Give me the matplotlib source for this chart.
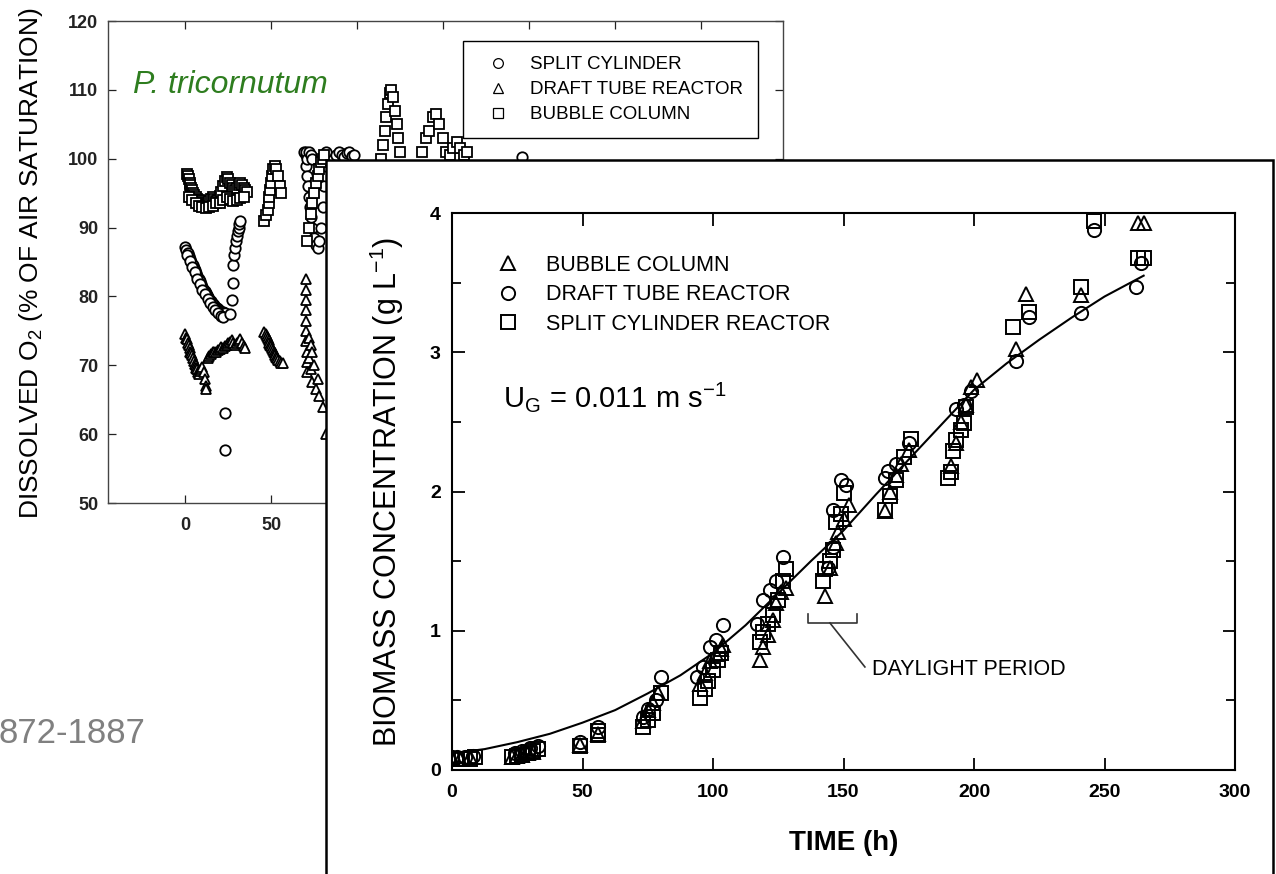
import matplotlib.pyplot as plt
from matplotlib.patches import Rectangle
from matplotlib.ticker import MultipleLocator

plt.rcParams['font.family'] = ['Liberation Sans', 'DejaVu Sans']
plt.rcParams['mathtext.fontset'] = 'custom'
plt.rcParams['mathtext.rm'] = 'Liberation Sans'
plt.rcParams['mathtext.it'] = 'Liberation Sans:italic'
plt.rcParams['mathtext.bf'] = 'Liberation Sans:bold'

# ---------------- background chart: dissolved O2 ----------------
bg_split_t = [0, 0.7, 1.4, 2.1, 2.8, 3.5, 4.2, 4.9, 5.6, 6.3, 7, 7.7, 8.4, 9.1, 9.8, 10.5, 11.2,
              11.9, 12.6, 13.3, 14, 14.7, 15.4, 16.1, 16.8, 17.5, 18.2, 18.9, 19.6, 20.3, 21,
              21.7, 22.4, 23.1,
              1, 2.5, 4, 5.5, 7, 8.5, 10, 11.5, 13, 14.5, 16, 17.5, 19, 20.5, 22,
              26, 27, 28, 28, 28.5, 29, 29.5, 30, 30.5, 31, 31.5, 32,
              23, 23,
              69, 70, 70.5, 71, 71.5, 72, 72.5, 73, 74, 75, 76, 77, 78, 79, 80, 81, 82, 82,
              70, 71, 72, 73, 74,
              88, 89.5, 91, 92.5, 94, 95.5, 97, 98.5, 196]
bg_split_y = [87.2, 86.8, 86.3, 85.9, 85.5, 85.0, 84.6, 84.2, 83.8, 83.4, 83.0, 82.6, 82.2, 81.8,
              81.4, 81.1, 80.8, 80.5, 80.2, 79.9, 79.6, 79.4, 79.1, 78.9, 78.7, 78.5, 78.3, 78.2,
              78.0, 77.9, 77.8, 77.7, 77.6, 77.6,
              86, 85.2, 84.3, 83.5, 82.6, 81.8, 81, 80.3, 79.6, 79, 78.5, 78, 77.6, 77.2, 77,
              77.5, 79.5, 82, 84.6, 86, 87, 88, 88.8, 89.5, 90, 90.5, 91,
              63.1, 57.7,
              101, 100.5, 99, 97.5, 96, 94.5, 93, 91.5, 90, 88.5, 87.5, 87, 88, 90, 93, 96, 99, 101,
              101, 100, 101, 100.5, 100,
              100.5, 101, 100.6, 100.2, 100.8, 101, 100.4, 100.6, 100.3]

bg_draft_t = [0, 0.5, 1, 1.5, 2, 2.5, 3, 3.5, 4, 4.5, 5, 5.5, 6, 6.5, 7, 7.5, 8, 8.5, 9, 10,
              11, 11.5, 12, 12,
              13, 14, 15, 16, 17, 18, 19, 20, 21, 22, 23, 24, 25, 26, 27, 28, 29, 30, 31, 32,
              33, 34, 35,
              46, 47, 47.5, 48, 48.5, 49, 49.5, 50, 50.5, 51, 51.5, 52, 52.5, 53, 53.5, 54, 55,
              56, 57,
              70, 70, 70, 70, 70, 70, 70, 71, 71, 71, 72, 72, 73, 73, 74, 74, 75, 76, 77, 78,
              80, 82]
bg_draft_y = [74.5, 74, 73.8, 73.2, 73, 72.5, 72, 71.8, 71.5, 71, 70.6, 70.2, 70, 69.6, 69.4,
              69, 68.8, 69.2, 69.5, 69.8, 69, 68, 67, 66.5,
              71, 71.3, 71.6, 71.9, 72, 72, 72.2, 72.4, 72.6, 72.5, 72.8, 73, 73.2, 73.4, 73.6,
              73.3, 73, 73.2, 73.5, 73.8, 73.2, 72.8, 72.5,
              74.8, 74.5, 74.2, 74, 73.7, 73.3, 73, 72.8, 72.5, 72.2, 72, 71.8, 71.5, 71.2, 71,
              70.8, 70.6, 70.4, 70.3,
              82.5, 81, 79.5, 78, 76.5, 75, 73.5, 72, 70.5, 69, 74, 71, 73, 69.5, 72, 67.5, 70,
              66.5, 68, 65.5, 64, 60]

bg_bubble_t = [1, 1.5, 2, 2.5, 3, 3.5, 4, 4.5, 5, 6, 7, 8, 9, 10, 11, 12, 13, 14, 15, 16, 17,
               18, 19, 20, 21, 22, 23, 24, 25, 26, 27, 28, 29, 30, 31, 32, 33, 34, 35, 36,
               2, 4, 6, 8, 10, 12, 14, 16, 18, 20, 22, 24, 26, 28, 30, 32, 34,
               46, 47, 48, 48.5, 49, 49.5, 50, 50.5, 51, 52, 53, 54, 55, 56,
               71, 72, 73, 74, 75, 76, 77, 78, 79, 80, 81,
               114, 115, 116, 117, 118, 119, 120, 121, 122, 123, 124, 125,
               138, 140, 142, 144, 146, 148, 150, 152,
               154, 156, 158, 160, 162, 164]
bg_bubble_y = [97.8, 97.5, 97, 96.5, 96.2, 95.8, 95.5, 95, 94.8, 94.5, 94.2, 94, 93.8, 93.5,
               93.3, 93.3, 93.5, 93.8, 94.2, 94.5, 94.2, 93.8, 94, 94.6, 95.2, 96, 96.8, 97.3,
               97, 96.5, 96.2, 95.8, 95.5, 95.8, 96.2, 96.5, 96.2, 95.8, 95.5, 95.2,
               94.5, 94, 93.6, 93.2, 93, 92.8, 93, 93.2, 93.5, 93.6, 94, 94.5, 94.2, 93.8, 94,
               94.3, 94.5,
               91, 91.8, 92.5, 93.5, 94.5, 95.5, 96.5, 97.5, 98.5, 99, 98.5, 97.5, 96, 95,
               88, 90, 92, 93.5, 95, 96.5, 97.5, 98.5, 99.5, 100, 100.5,
               100, 102, 104, 106, 108, 109.5, 110, 109, 107, 105, 103, 101,
               101, 103, 104, 106, 106.5, 105, 103, 101,
               100.5, 101.5, 102.5, 101.5, 100.5, 101]

bg_xticks = [0, 50, 100, 150, 200, 250, 300]
bg_xlabels = ['0', '50', '', '', '', '', '']   # the rest sit behind the front panel
bg_yticks = [50, 60, 70, 80, 90, 100, 110, 120]

# ---------------- foreground chart: biomass ----------------
bubble_t = [0, 3, 7, 23, 25, 27, 29, 31, 49, 56, 73, 75, 77, 79, 95, 97, 99, 101, 103, 104,
            118, 119, 121, 123, 124, 126, 128, 143, 145, 147, 148, 150, 152,
            166, 168, 170, 172, 175, 191, 193, 195, 197, 199, 201, 216, 220, 241, 263, 265]
bubble_y = [0.08, 0.08, 0.09, 0.09, 0.10, 0.11, 0.12, 0.13, 0.18, 0.26, 0.35, 0.43, 0.48, 0.55,
            0.62, 0.70, 0.78, 0.83, 0.87, 0.90,
            0.79, 0.88, 0.97, 1.08, 1.20, 1.28, 1.31, 1.25, 1.45, 1.63, 1.71, 1.80, 1.90,
            1.86, 2.00, 2.12, 2.20, 2.30, 2.18, 2.35, 2.50, 2.62, 2.75, 2.80, 3.02, 3.42, 3.41,
            3.93, 3.93]

draft_t = [0, 2, 5, 8, 24, 27, 30, 33, 49, 56, 73, 75, 78, 80, 94, 96, 99, 101, 104,
           117, 119, 122, 124, 127, 144, 146, 146, 149, 151, 166, 167, 170, 175,
           193, 196, 199, 216, 221, 241, 246, 262, 264]
draft_y = [0.09, 0.09, 0.09, 0.10, 0.12, 0.14, 0.16, 0.17, 0.20, 0.31, 0.38, 0.44, 0.50, 0.67,
           0.67, 0.74, 0.88, 0.93, 1.04,
           1.05, 1.22, 1.29, 1.36, 1.53, 1.45, 1.60, 1.87, 2.08, 2.05, 2.10, 2.15, 2.20, 2.35,
           2.59, 2.62, 2.72, 2.94, 3.25, 3.28, 3.88, 3.47, 3.64]

split_t = [0, 2, 4, 7, 9, 23, 25, 27, 29, 31, 33, 49, 56, 56, 73, 75, 77, 80,
           95, 97, 98, 100, 102, 103, 118, 119, 121, 123, 125, 127, 128,
           142, 143, 145, 146, 147, 149, 150, 166, 168, 170, 173, 176,
           190, 191, 192, 193, 195, 196, 197, 215, 221, 241, 246, 263, 265]
split_y = [0.08, 0.08, 0.08, 0.08, 0.09, 0.09, 0.10, 0.11, 0.12, 0.14, 0.15, 0.17, 0.25, 0.28,
           0.31, 0.36, 0.41, 0.55,
           0.52, 0.58, 0.64, 0.72, 0.79, 0.84, 0.92, 0.99, 1.05, 1.11, 1.22, 1.36, 1.44,
           1.36, 1.44, 1.50, 1.58, 1.78, 1.84, 1.99, 1.87, 1.97, 2.08, 2.25, 2.38,
           2.10, 2.14, 2.29, 2.37, 2.44, 2.49, 2.61, 3.18, 3.29, 3.47, 3.94, 3.68, 3.68]

fit_t = [0, 12.5, 25, 37.5, 50, 62.5, 75, 87.5, 100, 112.5, 125, 137.5, 150, 162.5, 175,
         187.5, 200, 212.5, 225, 237.5, 250, 265]
fit_y = [0.12, 0.15, 0.20, 0.26, 0.34, 0.43, 0.55, 0.68, 0.84, 1.04, 1.27, 1.50, 1.72, 1.98,
         2.23, 2.48, 2.73, 2.92, 3.09, 3.25, 3.40, 3.55]

daylight_start, daylight_end = 136.5, 155

fg_xticks = [0, 50, 100, 150, 200, 250, 300]
fg_yticks = [0, 1, 2, 3, 4]

W, H = 1276, 874


def px_box(x0, y0, x1, y1):
    return [x0 / W, 1 - y1 / H, (x1 - x0) / W, (y1 - y0) / H]


fig = plt.figure(figsize=(W / 100, H / 100), dpi=100)

# ---------- background axes ----------
ax1 = fig.add_axes(px_box(108, 21, 783, 503), zorder=0)
mk = dict(linestyle='none', ms=7.5, mfc='white', mec='black', mew=1.3)
ax1.plot(bg_split_t, bg_split_y, 'o', label='SPLIT CYLINDER', **mk)
ax1.plot(bg_draft_t, bg_draft_y, '^', label='DRAFT TUBE REACTOR', **mk)
ax1.plot(bg_bubble_t, bg_bubble_y, 's', label='BUBBLE COLUMN', **mk)
ax1.set_xlim(-45, 348)
ax1.set_ylim(50, 120)
ax1.set_xticks(bg_xticks, bg_xlabels)
ax1.set_yticks(bg_yticks)
ax1.tick_params(direction='in', top=True, right=True, length=6, width=0.9,
                labelsize=13, colors='#222222')
ax1.tick_params(axis='x', pad=10)
ax1.tick_params(axis='y', pad=7)
for lbl in ax1.get_xticklabels() + ax1.get_yticklabels():
    lbl.set_fontweight('bold')
for sp in ax1.spines.values():
    sp.set_color('#444444')
    sp.set_linewidth(1.0)
ax1.set_ylabel('DISSOLVED O$_2$ (% OF AIR SATURATION)', fontsize=19, va='center')
ax1.yaxis.set_label_coords(-0.114, 0.498)
leg1 = ax1.legend(loc='upper left', bbox_to_anchor=(0.526, 0.9585), borderaxespad=0,
                  fontsize=13.5, handlelength=2.13, handletextpad=0.64, labelspacing=0.42,
                  borderpad=0.8, fancybox=False, edgecolor='black', framealpha=1)
leg1.get_frame().set_linewidth(1.0)
for h in leg1.legend_handles:
    h.set_markeredgewidth(0.9)
    h.set_markersize(7)

fig.text(133 / W, 1 - 93 / H, 'P. tricornutum', fontsize=23, style='italic',
         color='#2e7d1f', va='baseline')
fig.text(145 / W, 1 - 743 / H, '872-1887', fontsize=25, color='#808080',
         ha='right', va='baseline')

# ---------- foreground panel ----------
box = Rectangle((326 / W, -0.02), (1273 - 326) / W, 1 - 160 / H + 0.02,
                transform=fig.transFigure, facecolor='white', edgecolor='black',
                linewidth=1.8, zorder=1)
fig.add_artist(box)

ax2 = fig.add_axes(px_box(452, 213, 1235, 770), zorder=2)
mk2 = dict(linestyle='none', ms=9.5, mfc='none', mec='black', mew=1.4)
ax2.plot(bubble_t, bubble_y, '^', label='BUBBLE COLUMN', **mk2)
ax2.plot(draft_t, draft_y, 'o', label='DRAFT TUBE REACTOR', **mk2)
ax2.plot(split_t, split_y, 's', label='SPLIT CYLINDER REACTOR', **mk2)
ax2.plot(fit_t, fit_y, '-', color='black', lw=1.5)

ax2.set_xlim(0, 300)
ax2.set_ylim(0, 4)
ax2.set_xticks(fg_xticks)
ax2.set_yticks(fg_yticks)
ax2.yaxis.set_minor_locator(MultipleLocator(0.5))
ax2.tick_params(which='both', direction='in', top=True, right=True, width=1.3)
ax2.tick_params(which='major', length=9, labelsize=14)
ax2.tick_params(which='minor', length=6.5)
ax2.tick_params(axis='x', pad=10)
ax2.tick_params(axis='y', pad=8)
for lbl in ax2.get_xticklabels() + ax2.get_yticklabels():
    lbl.set_fontweight('bold')
for sp in ax2.spines.values():
    sp.set_linewidth(1.5)

ax2.set_ylabel('BIOMASS CONCENTRATION (g L$^{-1}$)', fontsize=22, va='center')
ax2.yaxis.set_label_coords(-0.083, 0.499)
ax2.set_xlabel('TIME (h)', fontsize=20, fontweight='bold', va='center')
ax2.xaxis.set_label_coords(0.5006, -0.131)

ax2.legend(loc='upper left', bbox_to_anchor=(0.051, 0.925), borderaxespad=0, borderpad=0,
           frameon=False, fontsize=15.5, handlelength=1.5, handletextpad=1.0,
           labelspacing=0.4)

ax2.text(0.065, 0.652, r'U$_\mathrm{G}$ = 0.011 m s$^{-1}$', transform=ax2.transAxes,
         fontsize=21, va='baseline')

# daylight bracket
ax2.plot([daylight_start, daylight_start, daylight_end, daylight_end],
         [1.12, 1.056, 1.056, 1.12], color='#333333', lw=1.2)
ax2.plot([144.8, 158.2], [1.056, 0.74], color='#333333', lw=1.2)
ax2.text(160.9, 0.72, 'DAYLIGHT PERIOD', fontsize=15.5, va='center')

fig.savefig('out.png', dpi=100)
